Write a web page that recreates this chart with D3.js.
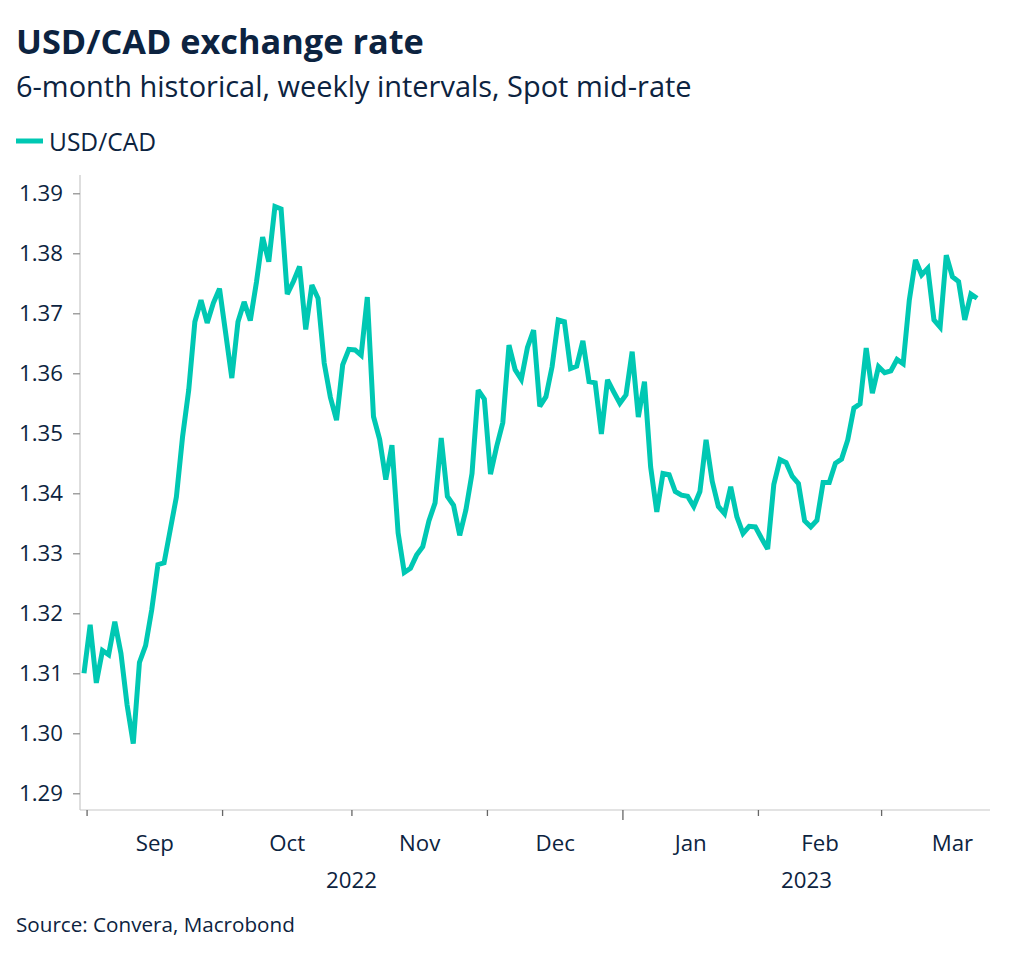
<!DOCTYPE html>
<html><head><meta charset="utf-8">
<script src="https://cdn.jsdelivr.net/npm/d3@7/dist/d3.min.js"></script>
<style>
html,body{margin:0;padding:0;background:#fff;}
svg{display:block;font-family:"Open Sans","Noto Sans",sans-serif;}
</style>
</head><body>
<svg id="chart" width="1024" height="958"></svg>
<script>
// ---------------- data ----------------
const titleText = "USD/CAD exchange rate";
const subtitleText = "6-month historical, weekly intervals, Spot mid-rate";
const seriesName = "USD/CAD";
const sourceText = "Source: Convera, Macrobond";
// business days (Mon-Fri) from startDate to endDate
const startDate = "2022-08-31";
const endDate = "2023-03-22";
const rates = [
  1.3100,
  // Sep
  1.3181,1.3084,1.3138,1.3131,1.3186,1.3133,1.3047,1.2983,1.3118,1.3146,1.3206,1.3281,
  1.3284,1.3339,1.3394,1.3494,1.3572,1.3686,1.3722,1.3684,1.3717,1.3741,
  // Oct
  1.3667,1.3592,1.3686,1.3719,1.3688,1.3752,1.3827,1.3786,1.3878,1.3874,1.3732,1.3753,
  1.3778,1.3673,1.3747,1.3725,1.3617,1.3560,1.3522,1.3614,1.3640,
  // Nov
  1.3639,1.3630,1.3727,1.3528,1.3490,1.3423,1.3480,1.3334,1.3268,1.3275,1.3297,1.3311,
  1.3354,1.3384,1.3492,1.3395,1.3380,1.3330,1.3372,1.3433,1.3572,1.3557,
  // Dec
  1.3432,1.3478,1.3518,1.3647,1.3606,1.3590,1.3643,1.3672,1.3545,1.3561,1.3611,1.3689,
  1.3686,1.3608,1.3612,1.3654,1.3586,1.3584,1.3499,1.3589,1.3569,1.3550,
  // Jan
  1.3564,1.3636,1.3527,1.3586,1.3444,1.3369,1.3433,1.3431,1.3403,1.3397,1.3395,1.3378,
  1.3403,1.3489,1.3420,1.3378,1.3366,1.3411,1.3361,1.3333,1.3345,1.3344,
  // Feb
  1.3325,1.3307,1.3415,1.3456,1.3451,1.3428,1.3416,1.3354,1.3344,1.3355,1.3418,1.3418,
  1.3450,1.3457,1.3489,1.3542,1.3549,1.3642,1.3567,1.3611,
  // Mar
  1.3601,1.3604,1.3623,1.3616,1.3722,1.3789,1.3764,1.3775,1.3689,1.3677,1.3797,1.3761,
  1.3753,1.3689,1.3732,1.3725
];
const yTicks = [1.29,1.30,1.31,1.32,1.33,1.34,1.35,1.36,1.37,1.38,1.39];
const monthLabels = ["Sep","Oct","Nov","Dec","Jan","Feb","Mar"];
const yearLabels = ["2022","2023"];

// ---------------- layout / style ----------------
const W = 1024, H = 958;
const textColor = "#0c2340";
const lineColor = "#00c8b3";
const plotLeft = 80, plotRight = 990, axisTop = 175, axisBottom = 810;

const svg = d3.select("#chart");
const parse = d3.utcParse("%Y-%m-%d");
const isWeekday = d => d.getUTCDay() !== 0 && d.getUTCDay() !== 6;
const origin = parse("2022-09-01");
function bday(d) {
  if (d >= origin) return d3.utcDay.range(origin, d).filter(isWeekday).length;
  return -d3.utcDay.range(d, origin).filter(isWeekday).length;
}
const days = d3.utcDay.range(parse(startDate), d3.utcDay.offset(parse(endDate), 1)).filter(isWeekday);
const data = days.map((d, i) => ({ date: d, idx: bday(d), v: rates[i] })).filter(d => d.v !== undefined);

const x = d3.scaleLinear().domain([-1.65, 146.1]).range([plotLeft, plotRight]);
const y = d3.scaleLinear().domain([1.29, 1.39]).range([793.3, 193.3]);

function fit(sel, w) {
  const fs = parseFloat(sel.attr("font-size"));
  const cw = sel.node().getComputedTextLength();
  if (cw > 0) sel.attr("font-size", fs * w / cw);
  return parseFloat(sel.attr("font-size"));
}

// title block
const t = svg.append("text").attr("x", 16).attr("y", 54).attr("font-size", 34)
  .attr("font-weight", 700).attr("fill", textColor).text(titleText);
fit(t, 408);
const st = svg.append("text").attr("x", 16).attr("y", 97).attr("font-size", 26)
  .attr("fill", textColor).text(subtitleText);
fit(st, 676);

// legend
svg.append("line").attr("x1", 16).attr("x2", 43).attr("y1", 141).attr("y2", 141)
  .attr("stroke", lineColor).attr("stroke-width", 5);
const lt = svg.append("text").attr("x", 49).attr("y", 151).attr("font-size", 20)
  .attr("fill", textColor).text(seriesName);
fit(lt, 107);

// axes lines
svg.append("line").attr("x1", plotLeft).attr("x2", plotLeft).attr("y1", axisTop).attr("y2", axisBottom)
  .attr("stroke", "#c8c8c8").attr("stroke-width", 1.2);
svg.append("line").attr("x1", plotLeft).attr("x2", plotRight).attr("y1", axisBottom).attr("y2", axisBottom)
  .attr("stroke", "#c8c8c8").attr("stroke-width", 1.2);

// y axis
const yAxis = d3.axisLeft(y).tickValues(yTicks).tickFormat(d3.format(".2f")).tickSize(7).tickPadding(10);
const yg = svg.append("g").attr("transform", `translate(${plotLeft},0)`).call(yAxis);
yg.select(".domain").remove();
yg.selectAll(".tick line").attr("stroke", "#8a8a8a").attr("stroke-width", 1.2);
yg.selectAll(".tick text").attr("fill", textColor).attr("font-family", '"Open Sans","Noto Sans",sans-serif').attr("font-size", 20);
let tickFs = fit(yg.select(".tick:last-of-type text"), 44);
yg.selectAll(".tick text").attr("font-size", tickFs);

// x axis: month boundaries on business-day scale
const monthStarts = d3.utcMonth.range(parse("2022-09-01"), parse("2023-04-01"));
const boundaries = monthStarts.map(m => bday(m) - 0.5);
const nextBound = monthStarts.map(m => bday(d3.utcMonth.offset(m, 1)) - 0.5);
const xg = svg.append("g");
xg.selectAll("line.tick").data(monthStarts).join("line")
  .attr("x1", (m, i) => x(boundaries[i])).attr("x2", (m, i) => x(boundaries[i]))
  .attr("y1", axisBottom).attr("y2", m => m.getUTCMonth() === 0 ? axisBottom + 10 : axisBottom + 6)
  .attr("stroke", "#666").attr("stroke-width", 1.3);
xg.selectAll("text.month").data(monthStarts).join("text")
  .attr("x", (m, i) => x((boundaries[i] + nextBound[i]) / 2))
  .attr("y", 851).attr("text-anchor", "middle").attr("font-size", tickFs)
  .attr("fill", textColor).text((m, i) => monthLabels[i]);
const janX = x(bday(parse("2023-01-02")) - 0.5);
const yearSpans = [[plotLeft, janX], [janX, plotRight]];
xg.selectAll("text.year").data(yearLabels).join("text")
  .attr("x", (d, i) => (yearSpans[i][0] + yearSpans[i][1]) / 2)
  .attr("y", 888).attr("text-anchor", "middle").attr("font-size", tickFs)
  .attr("fill", textColor).text(d => d);

// line
const line = d3.line().x(d => x(d.idx)).y(d => y(d.v));
svg.append("path").datum(data).attr("d", line).attr("fill", "none")
  .attr("stroke", lineColor).attr("stroke-width", 5).attr("stroke-linejoin", "miter").attr("stroke-miterlimit", 3);

// source
const so = svg.append("text").attr("x", 16).attr("y", 932).attr("font-size", 18)
  .attr("fill", textColor).text(sourceText);
fit(so, 279);
</script>
</body></html>
